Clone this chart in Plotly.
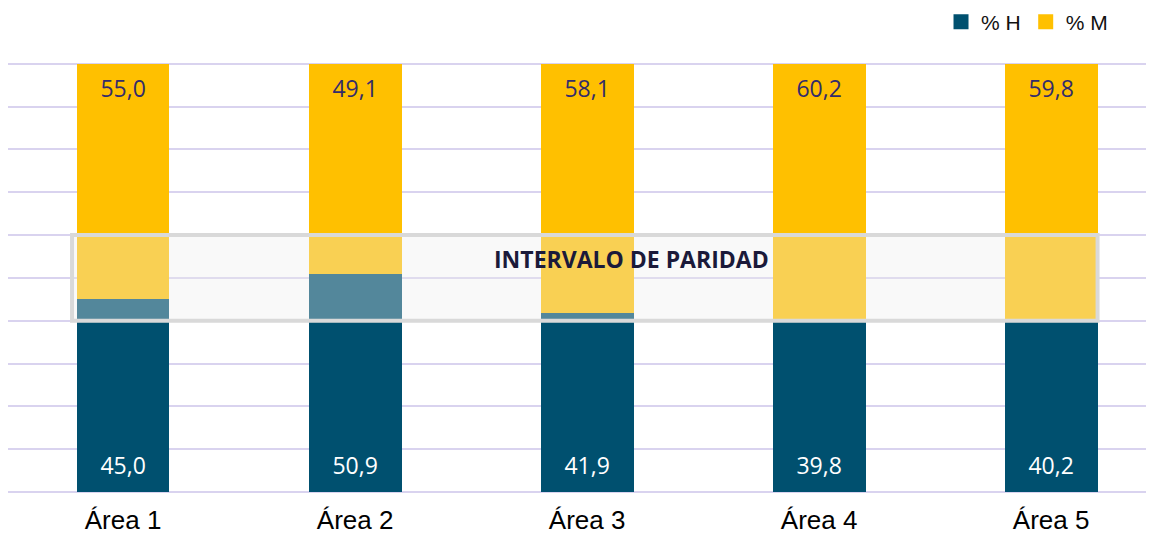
import plotly.graph_objects as go

areas = ["Área 1", "Área 2", "Área 3", "Área 4", "Área 5"]
pct_h = [45.0, 50.9, 41.9, 39.8, 40.2]
pct_m = [55.0, 49.1, 58.1, 60.2, 59.8]

COLOR_H = "#00506F"
COLOR_M = "#FFC000"


def fmt(v):
    # comma as decimal separator
    return f"{v:.1f}".replace(".", ",")


fig = go.Figure()
fig.add_trace(go.Bar(name="% H", x=areas, y=pct_h, marker_color=COLOR_H,
                     marker_line_width=0, width=0.4, hoverinfo="skip",
                     showlegend=False))
fig.add_trace(go.Bar(name="% M", x=areas, y=pct_m, marker_color=COLOR_M,
                     marker_line_width=0, width=0.4, hoverinfo="skip",
                     showlegend=False))

# legend entries with bigger square swatches
for name, col in [("% H", COLOR_H), ("% M", COLOR_M)]:
    fig.add_trace(go.Scatter(x=[None], y=[None], mode="markers", name=name,
                             marker=dict(symbol="square", size=15, color=col)))

# value labels: H near the base, M near the top
fig.add_trace(go.Scatter(x=areas, y=[5.5] * len(areas), mode="text",
                         text=[fmt(v) for v in pct_h], showlegend=False,
                         textfont=dict(family="Open Sans", size=23, color="white"),
                         hoverinfo="skip"))
fig.add_trace(go.Scatter(x=areas, y=[93.5] * len(areas), mode="text",
                         text=[fmt(v) for v in pct_m], showlegend=False,
                         textfont=dict(family="Open Sans", size=23, color="#332C6B"),
                         hoverinfo="skip"))

# parity interval box (40% - 60%)
fig.add_shape(type="rect", xref="x", yref="y", x0=-0.22, x1=4.2, y0=40, y1=60,
              line=dict(color="#D9D9D9", width=4),
              fillcolor="rgba(238,238,238,0.35)", layer="above")
fig.add_annotation(x=2.19, y=54.4, xref="x", yref="y", text="<b>INTERVALO DE PARIDAD</b>",
                   showarrow=False,
                   font=dict(family="Open Sans", size=23, color="#1B1A3A"))

# page body has an 8px default margin, so the figure is a bit smaller
fig.update_layout(
    width=1146, height=527,
    barmode="stack",
    margin=dict(l=0, r=4, t=54, b=43, autoexpand=False),
    plot_bgcolor="white", paper_bgcolor="white",
    legend=dict(orientation="h", x=0.817, xref="paper", xanchor="left",
                y=1.093, yref="paper", yanchor="middle",
                font=dict(family="Arial", size=21, color="#111111"),
                traceorder="normal", itemwidth=30),
    showlegend=True,
)
fig.update_xaxes(range=[-0.496, 4.426], showline=False, ticks="",
                 ticklabelstandoff=10,
                 tickfont=dict(family="Arial", size=26, color="black"))
fig.update_yaxes(range=[0, 100.4], dtick=10, showticklabels=False,
                 gridcolor="#D9D3EF", gridwidth=2,
                 zeroline=True, zerolinecolor="#D9D3EF", zerolinewidth=2)

fig.write_html("out.html")
